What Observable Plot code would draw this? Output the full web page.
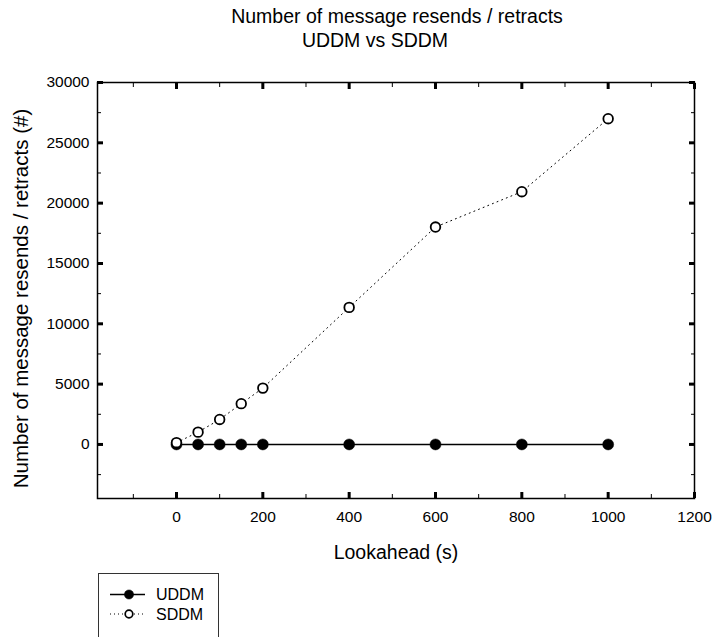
<!DOCTYPE html>
<html>
<head>
<meta charset="utf-8">
<script src="https://cdn.jsdelivr.net/npm/d3@7"></script>
<script src="https://cdn.jsdelivr.net/npm/@observablehq/plot@0.6"></script>
<style>
  html, body { margin: 0; padding: 0; background: #fff; }
  #wrap { position: relative; width: 715px; height: 637px; font-family: "Liberation Sans", Arial, sans-serif; }
  #wrap svg.plot { position: absolute; left: 0; top: 0; }
  #legend { position: absolute; left: 98px; top: 573px; }
</style>
</head>
<body>
<div id="wrap"></div>
<script>
const lookahead = [0, 50, 100, 150, 200, 400, 600, 800, 1000];
const uddmValues = [0, 0, 0, 0, 0, 0, 0, 0, 0];
const sddmValues = [150, 1020, 2070, 3380, 4670, 11360, 18020, 20950, 27000];
const xMajorTicks = [0, 200, 400, 600, 800, 1000, 1200];
const xMinorTicks = [-100, 100, 300, 500, 700, 900, 1100];
const yMajorTicks = [0, 5000, 10000, 15000, 20000, 25000, 30000];
const yMinorTicks = [-2500, 2500, 7500, 12500, 17500, 22500, 27500];
const titleLines = ["Number of message resends / retracts", "UDDM vs SDDM"];
const xLabel = "Lookahead (s)";
const yLabel = "Number of message resends / retracts (#)";
const seriesNames = ["UDDM", "SDDM"];

const uddm = lookahead.map((x, i) => ({x, y: uddmValues[i]}));
const sddm = lookahead.map((x, i) => ({x, y: sddmValues[i]}));

const font = "Liberation Sans, Arial, sans-serif";
const fmt = d => String(d);

const chart = Plot.plot({
  width: 715,
  height: 637,
  marginLeft: 97,
  marginRight: 21,
  marginTop: 82,
  marginBottom: 139,
  style: {fontFamily: font, color: "black", background: "white", overflow: "visible"},
  x: {domain: [-183, 1200]},
  y: {domain: [-4480, 30000]},
  marks: [
    // minor ticks
    Plot.axisX(xMinorTicks, {anchor: "bottom", tickSize: -4, strokeWidth: 1, fill: "none", label: null}),
    Plot.axisX(xMinorTicks, {anchor: "top", tickSize: -4, strokeWidth: 1, fill: "none", label: null}),
    Plot.axisY(yMinorTicks, {anchor: "left", tickSize: -4, strokeWidth: 1, fill: "none", label: null}),
    Plot.axisY(yMinorTicks, {anchor: "right", tickSize: -4, strokeWidth: 1, fill: "none", label: null}),
    // major ticks
    Plot.axisX(xMajorTicks, {anchor: "bottom", tickSize: -6, strokeWidth: 3, fill: "none", label: null}),
    Plot.axisX(xMajorTicks, {anchor: "top", tickSize: -6, strokeWidth: 3, fill: "none", label: null}),
    Plot.axisY(yMajorTicks, {anchor: "left", tickSize: -6, strokeWidth: 3, fill: "none", label: null}),
    Plot.axisY(yMajorTicks, {anchor: "right", tickSize: -6, strokeWidth: 3, fill: "none", label: null}),
    // tick labels
    Plot.axisX(xMajorTicks, {anchor: "bottom", tickSize: 0, tickPadding: 12, fontSize: 15.5, tickFormat: fmt, label: null}),
    Plot.axisY(yMajorTicks, {anchor: "left", tickSize: 0, tickPadding: 8, fontSize: 15.5, tickFormat: fmt, label: null}),
    Plot.frame({stroke: "black", strokeWidth: 1.5}),
    // UDDM
    Plot.line(uddm, {x: "x", y: "y", stroke: "black", strokeWidth: 1.5}),
    Plot.dot(uddm, {x: "x", y: "y", r: 5.5, fill: "black", stroke: "black", strokeWidth: 0.5}),
    // SDDM
    Plot.line(sddm, {x: "x", y: "y", stroke: "black", strokeWidth: 1, strokeDasharray: "1,4"}),
    Plot.dot(sddm, {x: "x", y: "y", r: 4.8, fill: "white", stroke: "black", strokeWidth: 1.8}),
    // titles and labels
    Plot.text([titleLines[0]], {text: d => d, frameAnchor: "top", lineAnchor: "bottom", dx: 1, dy: -59.5, fontSize: 19.5, fill: "black"}),
    Plot.text([titleLines[1]], {text: d => d, frameAnchor: "top", lineAnchor: "bottom", dx: -21, dy: -36, fontSize: 19.5, fill: "black"}),
    Plot.text([xLabel], {text: d => d, frameAnchor: "bottom", lineAnchor: "bottom", dy: 60, fontSize: 19.5, fill: "black"}),
    Plot.text([yLabel], {text: d => d, frameAnchor: "left", textAnchor: "middle", lineAnchor: "bottom", rotate: -90, dx: -70, dy: 8, fontSize: 20.5, fill: "black"})
  ]
});
chart.classList.add("plot");
document.getElementById("wrap").appendChild(chart);

// legend
const lg = d3.select("#wrap").append("svg")
  .attr("id", "legend")
  .attr("width", 121).attr("height", 64)
  .style("font-family", font);
lg.append("rect").attr("x", 0.5).attr("y", 0.5).attr("width", 120).attr("height", 70)
  .attr("fill", "white").attr("stroke", "#333").attr("stroke-width", 1);
const rows = [
  {name: seriesNames[0], dash: null, fill: "black", r: 4.6, sw: 1.5, cy: 21.5},
  {name: seriesNames[1], dash: "1,3", fill: "white", r: 3.8, sw: 1, cy: 41}
];
rows.forEach(rw => {
  const l = lg.append("line").attr("x1", 12).attr("x2", 47).attr("y1", rw.cy).attr("y2", rw.cy)
    .attr("stroke", "black").attr("stroke-width", rw.sw);
  if (rw.dash) l.attr("stroke-dasharray", rw.dash);
  lg.append("circle").attr("cx", 31).attr("cy", rw.cy).attr("r", rw.r)
    .attr("fill", rw.fill).attr("stroke", "black").attr("stroke-width", rw.fill === "white" ? 1.7 : 0.5);
  lg.append("text").attr("x", 58).attr("y", rw.cy).attr("dy", "0.35em")
    .attr("font-size", 16).attr("fill", "black").text(rw.name);
});
</script>
</body>
</html>
